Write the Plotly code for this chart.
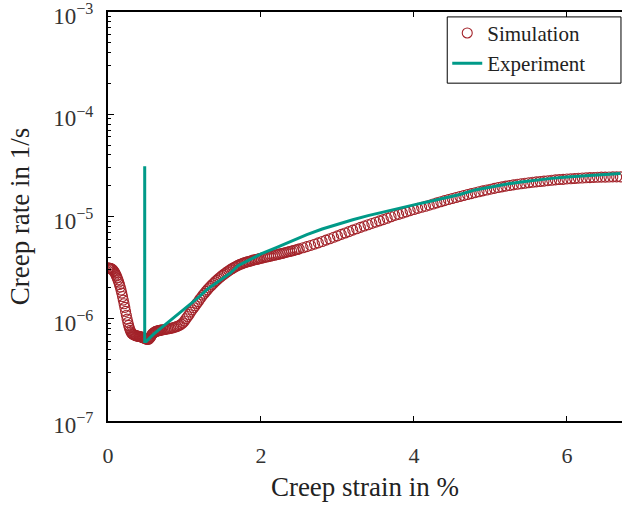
import plotly.graph_objects as go

# Simulation: creep strain (%) and creep rate (1/s)
sim_strain = [
    0.00, 0.01, 0.02, 0.03, 0.04, 0.05, 0.06, 0.07, 0.08, 0.09, 0.10, 0.11, 0.12, 0.13, 0.14, 0.15,
    0.16, 0.17, 0.18, 0.19, 0.20, 0.21, 0.22, 0.23, 0.24, 0.25, 0.26, 0.27, 0.28, 0.29, 0.30, 0.31,
    0.32, 0.33, 0.34, 0.35, 0.36, 0.37, 0.38, 0.39, 0.40, 0.41, 0.42, 0.43, 0.44, 0.45, 0.46, 0.47,
    0.48, 0.49, 0.50, 0.51, 0.52, 0.53, 0.54, 0.55, 0.56, 0.57, 0.58, 0.59, 0.60, 0.61, 0.62, 0.63,
    0.64, 0.65, 0.66, 0.67, 0.68, 0.69, 0.70, 0.72, 0.74, 0.76, 0.78, 0.80, 0.82, 0.84, 0.86, 0.88,
    0.90, 0.92, 0.94, 0.96, 0.98, 1.00, 1.02, 1.04, 1.06, 1.08, 1.10, 1.12, 1.14, 1.16, 1.18, 1.20,
    1.22, 1.24, 1.26, 1.28, 1.30, 1.32, 1.34, 1.36, 1.38, 1.40, 1.42, 1.44, 1.46, 1.48, 1.50, 1.52,
    1.54, 1.56, 1.58, 1.60, 1.62, 1.64, 1.66, 1.68, 1.70, 1.72, 1.74, 1.76, 1.78, 1.80, 1.82, 1.84,
    1.86, 1.88, 1.90, 1.92, 1.94, 1.96, 1.98, 2.00, 2.025, 2.05, 2.075, 2.10, 2.125, 2.15, 2.175, 2.20,
    2.225, 2.25, 2.275, 2.30, 2.325, 2.35, 2.375, 2.40, 2.425, 2.45, 2.475, 2.50,
    2.55, 2.60, 2.65, 2.70, 2.75, 2.80, 2.85, 2.90, 2.95, 3.00, 3.05, 3.10,
    3.15, 3.20, 3.25, 3.30, 3.35, 3.40, 3.45, 3.50, 3.55, 3.60, 3.65, 3.70, 3.75, 3.80, 3.85, 3.90,
    3.95, 4.00, 4.05, 4.10, 4.15, 4.20, 4.25, 4.30, 4.35, 4.40, 4.45, 4.50, 4.55, 4.60, 4.65, 4.70,
    4.75, 4.80, 4.85, 4.90, 4.95, 5.00, 5.05, 5.10, 5.15, 5.20, 5.25, 5.30, 5.35, 5.40, 5.45, 5.50,
    5.55, 5.60, 5.65, 5.70, 5.75, 5.80, 5.85, 5.90, 5.95, 6.00, 6.05, 6.10, 6.15, 6.20, 6.25, 6.30,
    6.35, 6.40, 6.45, 6.50, 6.55, 6.60, 6.65, 6.70]
sim_rate = [
    3.13e-6, 3.13e-6, 3.12e-6, 3.11e-6, 3.09e-6, 3.06e-6, 3.02e-6, 2.96e-6, 2.89e-6, 2.81e-6, 2.72e-6,
    2.62e-6, 2.51e-6, 2.40e-6, 2.28e-6, 2.16e-6, 2.04e-6, 1.91e-6, 1.78e-6, 1.65e-6, 1.52e-6, 1.40e-6,
    1.29e-6, 1.18e-6, 1.08e-6, 9.9e-7, 9.2e-7, 8.6e-7, 8.1e-7, 7.7e-7, 7.4e-7, 7.2e-7, 7.1e-7, 7.0e-7,
    6.95e-7, 6.9e-7, 6.85e-7, 6.8e-7, 6.78e-7, 6.75e-7, 6.72e-7, 6.7e-7, 6.67e-7, 6.64e-7, 6.6e-7,
    6.56e-7, 6.52e-7, 6.48e-7, 6.43e-7, 6.38e-7, 6.33e-7, 6.3e-7, 6.28e-7, 6.3e-7, 6.4e-7, 6.55e-7,
    6.7e-7, 6.9e-7, 7.1e-7, 7.2e-7, 7.3e-7, 7.4e-7, 7.48e-7, 7.52e-7, 7.56e-7, 7.6e-7, 7.63e-7, 7.66e-7,
    7.7e-7, 7.73e-7, 7.76e-7, 7.8e-7, 7.85e-7, 7.9e-7, 7.95e-7, 8.0e-7, 8.05e-7, 8.12e-7, 8.2e-7, 8.3e-7,
    8.4e-7, 8.5e-7, 8.65e-7, 8.85e-7, 9.1e-7, 9.5e-7, 1.00e-6, 1.05e-6, 1.10e-6, 1.16e-6, 1.22e-6,
    1.28e-6, 1.34e-6, 1.41e-6, 1.47e-6, 1.55e-6, 1.62e-6, 1.70e-6, 1.77e-6, 1.85e-6, 1.92e-6, 2.00e-6,
    2.07e-6, 2.15e-6, 2.22e-6, 2.30e-6, 2.37e-6, 2.45e-6, 2.52e-6, 2.60e-6, 2.67e-6, 2.74e-6, 2.81e-6,
    2.88e-6, 2.95e-6, 3.02e-6, 3.08e-6, 3.15e-6, 3.21e-6, 3.27e-6, 3.33e-6, 3.38e-6, 3.43e-6, 3.48e-6,
    3.52e-6, 3.56e-6, 3.60e-6, 3.63e-6, 3.67e-6, 3.70e-6, 3.74e-6, 3.77e-6, 3.80e-6, 3.84e-6, 3.87e-6,
    3.90e-6, 3.94e-6, 3.98e-6, 4.02e-6, 4.06e-6, 4.10e-6, 4.14e-6, 4.18e-6, 4.22e-6, 4.26e-6, 4.31e-6,
    4.35e-6, 4.40e-6, 4.45e-6, 4.50e-6, 4.55e-6, 4.60e-6, 4.65e-6, 4.71e-6, 4.76e-6, 4.82e-6,
    4.94e-6, 5.07e-6, 5.21e-6, 5.36e-6, 5.52e-6, 5.69e-6, 5.87e-6, 6.06e-6, 6.26e-6, 6.47e-6, 6.68e-6,
    6.90e-6, 7.12e-6, 7.35e-6, 7.58e-6, 7.82e-6, 8.06e-6, 8.30e-6, 8.55e-6, 8.80e-6, 9.06e-6, 9.32e-6,
    9.60e-6, 9.95e-6, 1.025e-5, 1.05e-5, 1.08e-5, 1.11e-5, 1.14e-5, 1.17e-5, 1.20e-5, 1.23e-5, 1.26e-5,
    1.29e-5, 1.325e-5, 1.36e-5, 1.395e-5, 1.43e-5, 1.465e-5, 1.50e-5, 1.535e-5, 1.57e-5, 1.605e-5,
    1.64e-5, 1.675e-5, 1.71e-5, 1.745e-5, 1.78e-5, 1.815e-5, 1.85e-5, 1.885e-5, 1.92e-5, 1.95e-5,
    1.98e-5, 2.01e-5, 2.04e-5, 2.065e-5, 2.09e-5, 2.115e-5, 2.14e-5, 2.16e-5, 2.18e-5, 2.20e-5,
    2.22e-5, 2.24e-5, 2.26e-5, 2.28e-5, 2.30e-5, 2.31e-5, 2.33e-5, 2.34e-5, 2.355e-5, 2.37e-5,
    2.38e-5, 2.39e-5, 2.40e-5, 2.41e-5, 2.42e-5, 2.425e-5, 2.43e-5, 2.435e-5, 2.44e-5, 2.44e-5,
    2.44e-5]

# Experiment: creep strain (%) and creep rate (1/s)
exp_strain = [0.48, 0.48, 0.50, 0.60, 0.70, 0.80, 0.90, 1.00, 1.10, 1.20, 1.30, 1.40, 1.50, 1.60, 1.70,
              1.80, 1.90, 2.00, 2.20, 2.40, 2.60, 2.80, 3.00, 3.20, 3.40, 3.60, 3.80, 4.00, 4.20, 4.40,
              4.60, 4.80, 5.00, 5.20, 5.40, 5.60, 5.80, 6.00, 6.20, 6.40, 6.60, 6.70]
exp_rate = [3.1e-5, 6.0e-7, 6.0e-7, 7.1e-7, 8.2e-7, 9.4e-7, 1.09e-6, 1.25e-6, 1.44e-6, 1.66e-6, 1.95e-6,
            2.2e-6, 2.5e-6, 2.8e-6, 3.3e-6, 3.6e-6, 3.95e-6, 4.3e-6, 4.95e-6, 5.75e-6, 6.65e-6, 7.55e-6,
            8.4e-6, 9.3e-6, 1.02e-5, 1.11e-5, 1.20e-5, 1.30e-5, 1.40e-5, 1.52e-5, 1.64e-5, 1.82e-5,
            1.95e-5, 2.07e-5, 2.18e-5, 2.28e-5, 2.36e-5, 2.43e-5, 2.50e-5, 2.56e-5, 2.61e-5, 2.63e-5]

x_ticks = [0, 2, 4, 6]
y_ticks = [1e-7, 1e-6, 1e-5, 1e-4, 1e-3]
y_ticktext = ["10<sup>−7</sup>", "10<sup>−6</sup>", "10<sup>−5</sup>", "10<sup>−4</sup>", "10<sup>−3</sup>"]

RED = "#a3232a"
TEAL = "#009a88"
SERIF = "Liberation Serif, DejaVu Serif, serif"

fig = go.Figure()
fig.add_trace(go.Scatter(
    x=sim_strain, y=sim_rate, mode="markers", name="Simulation",
    marker=dict(symbol="circle-open", size=10, color=RED, line=dict(width=1.1, color=RED)),
))
fig.add_trace(go.Scatter(
    x=exp_strain, y=exp_rate, mode="lines", name="Experiment",
    line=dict(color=TEAL, width=3),
))

fig.update_layout(
    width=622, height=508,
    margin=dict(l=108, r=0, t=12, b=87, autoexpand=False),
    paper_bgcolor="white", plot_bgcolor="white",
    font=dict(family=SERIF, size=19, color="#222"),
    showlegend=True,
    legend=dict(
        x=0.66, y=0.998, xanchor="left", yanchor="top",
        borderwidth=0, bgcolor="rgba(0,0,0,0)",
        font=dict(family=SERIF, size=21, color="#222"),
        itemwidth=30, tracegroupgap=0,
    ),
    shapes=[dict(type="rect", xref="paper", yref="paper", x0=0.66, x1=0.998, y0=0.826, y1=0.988,
                 line=dict(color="black", width=1), fillcolor="white", layer="above")],
)
fig.update_xaxes(
    range=[0, 6.72], tickvals=x_ticks, ticktext=[str(v) for v in x_ticks],
    ticks="inside", ticklen=5, tickcolor="black", tickwidth=1,
    showline=True, linecolor="black", linewidth=2, mirror="ticks",
    showgrid=False, zeroline=False, automargin=False,
    ticklabelstandoff=14,
    tickfont=dict(family=SERIF, size=22, color="#333"),
    title=dict(text="Creep strain in %", standoff=10,
               font=dict(family=SERIF, size=27, color="#222")),
)
fig.update_yaxes(
    type="log", range=[-7.0005, -2.9995], tickvals=y_ticks, ticktext=y_ticktext,
    ticks="inside", ticklen=6, tickcolor="black", tickwidth=1,
    minor=dict(ticks="inside", ticklen=3, tickcolor="black", tickwidth=1, dtick="D1", showgrid=False),
    showline=True, linecolor="black", linewidth=2,
    showgrid=False, zeroline=False, automargin=False,
    ticklabelstandoff=8, ticklabelshift=4, ticklabeloverflow="allow",
    tickfont=dict(family=SERIF, size=23, color="#333"),
    title=dict(text="Creep rate in 1/s", standoff=16,
               font=dict(family=SERIF, size=27, color="#222")),
)

fig.write_html("out.html")
